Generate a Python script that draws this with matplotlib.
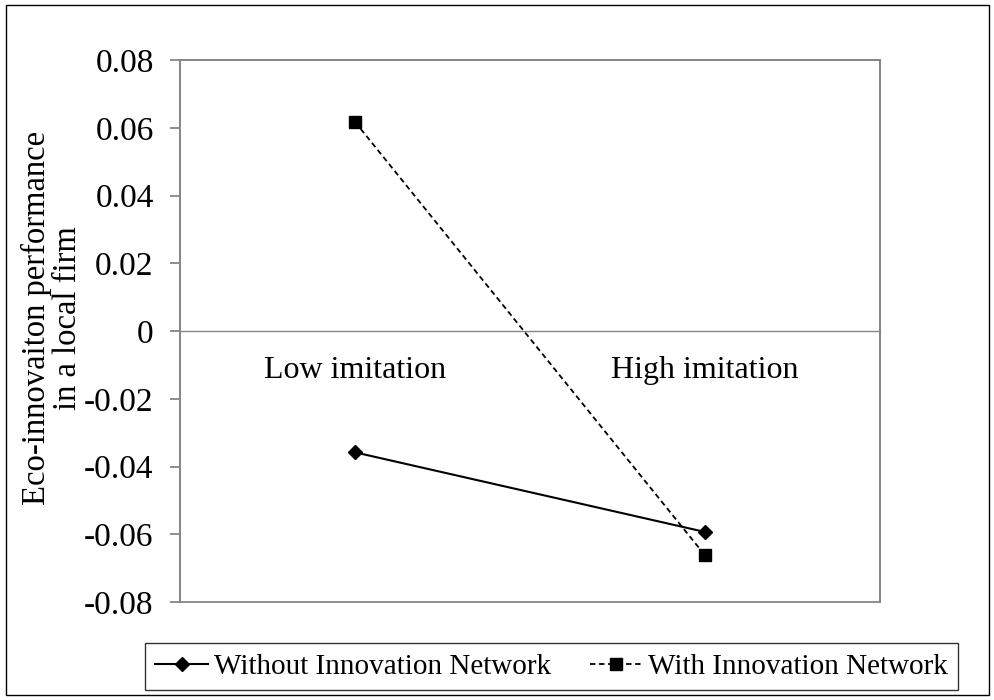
import matplotlib
matplotlib.use("Agg")
import matplotlib.pyplot as plt
from matplotlib.patches import Rectangle

categories = ["Low imitation", "High imitation"]
without_network = [-0.0358, -0.0593]
with_network = [0.0618, -0.0661]
series_names = ["Without Innovation Network", "With Innovation Network"]
y_ticks = [-0.08, -0.06, -0.04, -0.02, 0, 0.02, 0.04, 0.06, 0.08]
y_tick_labels = ["-0.08", "-0.06", "-0.04", "-0.02", "0", "0.02", "0.04", "0.06", "0.08"]

plt.rcParams['font.family'] = ['Liberation Serif', 'DejaVu Serif']
gray = "#868686"

fig = plt.figure(figsize=(9.95, 7.0), dpi=100)
fig.patches.append(Rectangle((0.006, 0.007), 0.988, 0.986, transform=fig.transFigure,
                             fill=False, edgecolor="#000000", linewidth=1.0))
ax = fig.add_axes([0.181, 0.14, 0.703, 0.774])

x = list(range(len(categories)))
l1, = ax.plot(x, without_network, color="black", linewidth=1.5, marker="D", markersize=7,
              label=series_names[0])
l2, = ax.plot(x, with_network, color="black", linewidth=1.3, linestyle=(0, (3, 2)),
              marker="s", markersize=9, label=series_names[1])

ax.set_xlim(-0.5, 1.5)
ax.set_ylim(-0.08, 0.08)
ax.spines['bottom'].set_position(('data', 0))
ax.set_yticks(y_ticks)
ax.set_yticklabels(y_tick_labels)
ax.set_xticks(x)
ax.set_xticklabels(categories)

for s in ["left", "right", "top"]:
    ax.spines[s].set_color(gray)
    ax.spines[s].set_linewidth(1.3)
ax.spines['bottom'].set_color(gray)
ax.spines['bottom'].set_linewidth(1.0)
ax.add_patch(Rectangle((0, 0), 1, 1, transform=ax.transAxes, fill=False,
                       edgecolor=gray, linewidth=1.3, clip_on=False))
ax.tick_params(axis='x', length=0, pad=18, labelsize=23)
ax.tick_params(axis='y', length=7, width=1.3, color=gray, pad=12, direction='out',
               labelsize=24)

ax.set_ylabel("Eco-innovaiton performance\nin a local firm", fontsize=23.5, labelpad=1,
              linespacing=1.02)
ax.yaxis.label.set_y(0.524)

leg = fig.legend(handles=[l1, l2], loc="center", bbox_to_anchor=(0.5545, 0.0475), ncol=2,
                 fontsize=21, frameon=True, fancybox=False, handlelength=1.8,
                 columnspacing=1.35, handletextpad=0.2, borderpad=0.35, borderaxespad=0)
leg.get_frame().set_edgecolor("#000000")
leg.get_frame().set_linewidth(1.0)

fig.savefig("out.png", dpi=100)
